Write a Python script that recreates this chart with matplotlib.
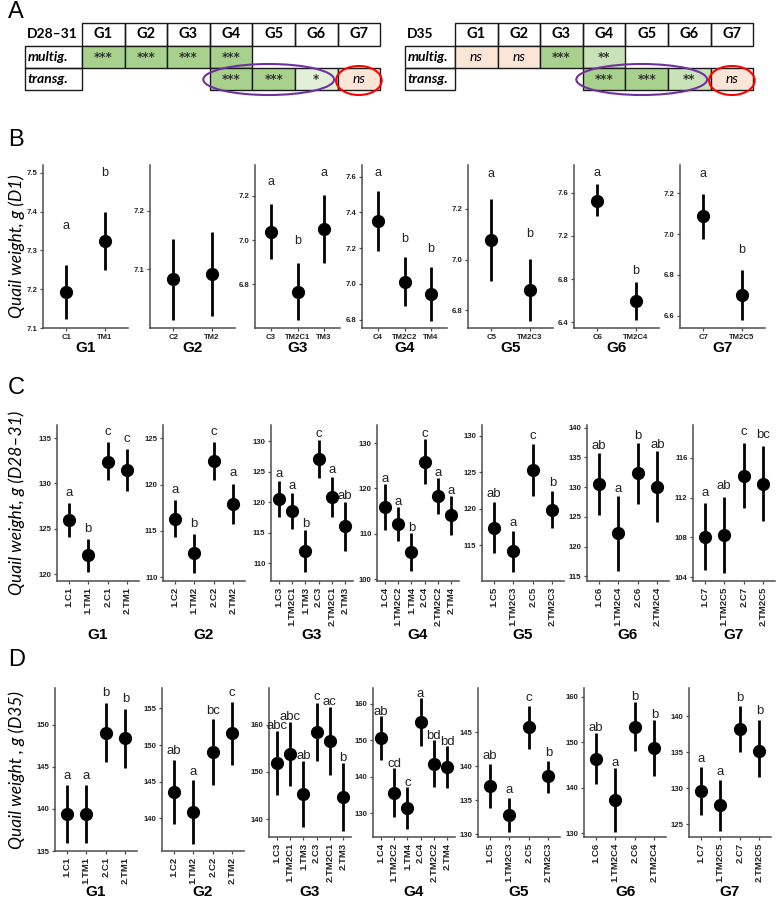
import matplotlib
matplotlib.use('Agg')
import matplotlib.pyplot as plt
from matplotlib.patches import Rectangle, Ellipse

# ---------------- DATA ----------------
groups = ["G1", "G2", "G3", "G4", "G5", "G6", "G7"]

# Panel A tables
tab_titles = ["D28–31", "D35"]
multig_D28 = ["***", "***", "***", "***", None, None, None]
transg_D28 = [None, None, None, "***", "***", "*", "ns"]
multig_D35 = ["ns", "ns", "***", "**", None, None, None]
transg_D35 = [None, None, None, "***", "***", "**", "ns"]

# Panel B (D1)
B_labels = [["C1", "TM1"], ["C2", "TM2"], ["C3", "TM2C1", "TM3"], ["C4", "TM2C2", "TM4"],
            ["C5", "TM2C3"], ["C6", "TM2C4"], ["C7", "TM2C5"]]
B_mean = [[7.193, 7.325], [7.083, 7.092], [7.037, 6.767, 7.05], [7.354, 7.013, 6.944],
          [7.076, 6.878], [7.526, 6.60], [7.088, 6.70]]
B_low = [[7.122, 7.25], [7.014, 7.02], [6.913, 6.637, 6.897], [7.187, 6.877, 6.795],
         [6.915, 6.755], [7.384, 6.424], [6.974, 6.577]]
B_high = [[7.262, 7.40], [7.152, 7.164], [7.163, 6.897, 7.203], [7.52, 7.149, 7.093],
          [7.24, 7.001], [7.68, 6.776], [7.197, 6.823]]
B_let = [["a", "b"], ["", ""], ["a", "b", "a"], ["a", "b", "b"], ["a", "b"], ["a", "b"], ["a", "b"]]
B_yticks = [[7.1, 7.2, 7.3, 7.4, 7.5], [7.1, 7.2], [6.8, 7.0, 7.2], [6.8, 7.0, 7.2, 7.4, 7.6],
            [6.8, 7.0, 7.2], [6.4, 6.8, 7.2, 7.6], [6.6, 6.8, 7.0, 7.2]]

# Panels C (D28-31) and D (D35) share the category labels
CD_labels = [["1.C1", "1.TM1", "2.C1", "2.TM1"],
             ["1.C2", "1.TM2", "2.C2", "2.TM2"],
             ["1.C3", "1.TM2C1", "1.TM3", "2.C3", "2.TM2C1", "2.TM3"],
             ["1.C4", "1.TM2C2", "1.TM4", "2.C4", "2.TM2C2", "2.TM4"],
             ["1.C5", "1.TM2C3", "2.C5", "2.TM2C3"],
             ["1.C6", "1.TM2C4", "2.C6", "2.TM2C4"],
             ["1.C7", "1.TM2C5", "2.C7", "2.TM2C5"]]

C_mean = [[126.0, 122.1, 132.4, 131.5], [116.3, 112.6, 122.6, 117.9],
          [120.5, 118.6, 112.0, 127.1, 120.9, 116.1], [116.0, 112.2, 105.9, 125.8, 118.4, 114.1],
          [117.4, 114.2, 125.3, 119.9], [130.5, 122.2, 132.4, 130.1], [108.0, 108.2, 114.2, 113.4]]
C_low = [[124.1, 120.2, 130.35, 129.2], [114.3, 110.5, 120.5, 115.7],
         [117.5, 115.6, 108.6, 124.0, 117.5, 112.0], [110.9, 108.5, 101.7, 120.9, 114.4, 109.8],
         [113.9, 111.4, 121.7, 117.4], [125.3, 115.9, 127.2, 124.1], [104.7, 104.4, 110.9, 109.6]]
C_high = [[127.9, 123.9, 134.6, 133.8], [118.3, 114.7, 124.6, 120.1],
          [123.5, 121.6, 115.4, 130.2, 124.2, 120.0], [121.1, 115.9, 110.1, 130.9, 122.4, 118.4],
          [120.9, 117.0, 128.9, 122.5], [135.8, 128.5, 137.5, 136.0], [111.4, 112.1, 117.5, 117.2]]
C_let = [["a", "b", "c", "c"], ["a", "b", "c", "a"], ["a", "a", "b", "c", "a", "ab"],
         ["a", "a", "b", "c", "a", "a"], ["ab", "a", "c", "b"], ["ab", "a", "b", "ab"],
         ["a", "ab", "c", "bc"]]
C_yticks = [[120, 125, 130, 135], [110, 115, 120, 125], [110, 115, 120, 125, 130],
            [100, 110, 120, 130], [115, 120, 125, 130], [115, 120, 125, 130, 135, 140],
            [104, 108, 112, 116]]

D_mean = [[139.4, 139.4, 149.1, 148.4], [143.6, 140.9, 149.0, 151.6],
          [151.9, 153.8, 145.3, 158.5, 156.5, 144.6], [150.6, 135.6, 131.4, 154.9, 143.5, 142.6],
          [137.1, 132.9, 145.7, 138.5], [146.3, 137.3, 153.4, 148.7], [129.6, 127.6, 138.2, 135.2]]
D_low = [[135.9, 135.9, 145.6, 144.9], [139.2, 136.5, 144.5, 147.3],
         [145.2, 147.1, 138.3, 152.3, 149.3, 137.4], [144.6, 128.9, 125.6, 148.3, 137.2, 136.8],
         [133.8, 130.4, 142.5, 136.1], [140.8, 130.4, 148.0, 142.5], [126.3, 124.0, 135.0, 131.5]]
D_high = [[142.8, 142.8, 152.6, 151.9], [148.0, 145.2, 153.5, 155.9],
          [158.6, 160.5, 152.3, 164.7, 163.7, 151.9], [156.7, 142.4, 137.2, 161.5, 150.0, 148.4],
          [140.4, 135.4, 148.9, 140.8], [152.0, 144.3, 158.8, 154.9], [132.9, 131.1, 141.4, 139.5]]
D_let = [["a", "a", "b", "b"], ["ab", "a", "bc", "c"], ["abc", "abc", "ab", "c", "ac", "b"],
         ["ab", "cd", "c", "a", "bd", "bd"], ["ab", "a", "c", "b"], ["ab", "a", "b", "b"],
         ["a", "a", "b", "b"]]
D_yticks = [[135, 140, 145, 150], [140, 145, 150, 155], [140, 150, 160], [130, 140, 150, 160],
            [130, 135, 140, 145], [130, 140, 150, 160], [125, 130, 135, 140]]

row_titles = ["Quail weight, g (D1)", "Quail weight, g (D28–31)", "Quail weight , g (D35)"]

# ---------------- LAYOUT ----------------
W, H = 777, 899
fig = plt.figure(figsize=(W / 100, H / 100), dpi=100)

AX_COL = '#4d4d4d'
TXT_COL = '#222222'

def px_axes(x0, y0, x1, y1):
    return fig.add_axes([x0 / W, 1 - y1 / H, (x1 - x0) / W, (y1 - y0) / H])

B_ylim = [(7.10, 7.52), (7.0, 7.278), (6.603, 7.339), (6.754, 7.665), (6.729, 7.374),
          (6.347, 7.856), (6.54, 7.339)]
C_ylim = [(119.23, 136.46), (109.6, 126.43), (107.06, 132.7), (99.6, 134.0), (110.1, 131.5),
          (114.2, 140.45), (103.6, 119.3)]
D_ylim = [(135.0, 154.4), (135.5, 157.8), (136.2, 167.8), (123.5, 164.3), (129.6, 151.5),
          (129.2, 161.9), (123.2, 143.9)]

rows = [
    dict(lefts=[43, 150, 255, 362, 468, 574, 680], width=85, top=165, bottoms=[328] * 7,
         labels=B_labels, mean=B_mean, low=B_low, high=B_high, let=B_let, ylim=B_ylim,
         yticks=B_yticks, off=0.1, rot=0, xfs=5.6, lfs=9, gy=348, fmt='{:.1f}', ty=246),
    dict(lefts=[57, 163, 271, 377, 482, 587, 693], width=82, top=425, bottoms=[581] * 7,
         labels=CD_labels, mean=C_mean, low=C_low, high=C_high, let=C_let, ylim=C_ylim,
         yticks=C_yticks, off=1.1, rot=90, xfs=6.8, lfs=9.5, gy=635, fmt='{:.0f}', ty=503),
    dict(lefts=[55, 162, 269, 373, 478, 584, 689], width=82, top=688,
         bottoms=[851, 851, 837, 837, 837, 837, 837],
         labels=CD_labels, mean=D_mean, low=D_low, high=D_high, let=D_let, ylim=D_ylim,
         yticks=D_yticks, off=1.15, rot=90, xfs=6.8, lfs=9.5, gy=892, fmt='{:.0f}', ty=770),
]

for r, row in enumerate(rows):
    for g in range(7):
        x0 = row['lefts'][g]
        ax = px_axes(x0, row['top'], x0 + row['width'], row['bottoms'][g])
        labels = row['labels'][g]
        n = len(labels)
        mean, low, high, lets = row['mean'][g], row['low'][g], row['high'][g], row['let'][g]
        xs = list(range(n))
        ax.vlines(xs, low, high, color='black', lw=2.0, zorder=2)
        ax.plot(xs, mean, 'o', color='black', ms=8.5, zorder=3)
        for i, l in enumerate(lets):
            if l:
                ax.text(i, high[i] + row['off'], l, ha='center', va='center',
                        fontsize=row['lfs'], color=TXT_COL, family='Liberation Sans')
        ax.set_xlim(-0.6, n - 0.4)
        ax.set_ylim(*row['ylim'][g])
        ax.set_yticks(row['yticks'][g])
        ax.set_yticklabels([row['fmt'].format(t) for t in row['yticks'][g]])
        ax.set_xticks(xs)
        ax.set_xticklabels(labels, rotation=row['rot'])
        for s in ['top', 'right']:
            ax.spines[s].set_visible(False)
        for s in ['left', 'bottom']:
            ax.spines[s].set_color(AX_COL)
            ax.spines[s].set_linewidth(1.1)
        ax.tick_params(axis='both', colors=AX_COL, length=2.5, width=0.9, pad=1.5)
        for t in ax.get_yticklabels():
            t.set_fontsize(5.6)
            t.set_fontweight('bold')
            t.set_color(TXT_COL)
            t.set_family('Liberation Sans')
        for t in ax.get_xticklabels():
            t.set_fontsize(row['xfs'])
            t.set_fontweight('bold')
            t.set_color(TXT_COL)
            t.set_family('Liberation Sans')
        ax.patch.set_alpha(0)
        fig.text((x0 + row['width'] / 2) / W, 1 - row['gy'] / H, groups[g], ha='center',
                 va='center', fontsize=11, fontweight='bold', family='Liberation Sans',
                 color='black')
    fig.text(17 / W, 1 - row['ty'] / H, row_titles[r], rotation=90, ha='center', va='center',
             fontsize=12.5, style='italic', family='Lato', color='black')

# Panel letters
for lab, yy in zip("ABCD", [12, 140, 388, 660]):
    fig.text(8 / W, 1 - yy / H, lab, ha='left', va='center', fontsize=17,
             family='Liberation Sans', color='black')

# ---------------- PANEL A tables ----------------
ov = fig.add_axes([0, 0, 1, 1])
ov.set_xlim(0, W)
ov.set_ylim(H, 0)
ov.axis('off')
ov.patch.set_alpha(0)

fill = {"***": "#a9d18e", "**": "#c9e2b8", "*": "#e2f0d9", "ns": "#fbe5d6"}
EC = '#1a1a1a'
TFS = 10

def draw_table(xl, x0, title, multig, transg):
    cw = 42.6
    ry = [(23, 46), (46, 68), (68, 90)]
    ov.text(xl + 2, 34.5, title, ha='left', va='center', fontsize=TFS, fontweight='bold',
            family='Lato')
    for i, g in enumerate(groups):
        xa = x0 + i * cw
        ov.add_patch(Rectangle((xa, 23), cw, 23, fill=False, ec=EC, lw=1.0))
        ov.text(xa + cw / 2, 34.5, g, ha='center', va='center', fontsize=TFS + 0.5,
                fontweight='bold', family='Lato')
    for k, (vals, lab) in enumerate([(multig, 'multig.'), (transg, 'transg.')]):
        y0, y1 = ry[k + 1]
        ov.add_patch(Rectangle((xl, y0), x0 - xl, y1 - y0, fill=False, ec=EC, lw=1.0))
        ov.text(xl + 3, (y0 + y1) / 2, lab, ha='left', va='center', fontsize=TFS,
                fontweight='bold', style='italic', family='Lato')
        for i, v in enumerate(vals):
            if v is None:
                continue
            xa = x0 + i * cw
            ov.add_patch(Rectangle((xa, y0), cw, y1 - y0, fc=fill[v], ec=EC, lw=1.0))
            if v == 'ns':
                ov.text(xa + cw / 2, (y0 + y1) / 2, v, ha='center', va='center',
                        fontsize=TFS, style='italic', family='Lato')
            else:
                ov.text(xa + cw / 2, (y0 + y1) / 2 + 1, v, ha='center', va='center',
                        fontsize=8.5, fontweight='bold', family='DejaVu Sans', color='#333333')
    # highlight shapes
    ov.add_patch(Ellipse((x0 + 3 * cw + 1.5 * cw - 5, 79.5), 3 * cw + 3, 31, fill=False,
                         ec='#7030a0', lw=1.5))
    ov.add_patch(Ellipse((x0 + 6.5 * cw, 80.5), cw + 3, 29, fill=False, ec='#ff0000', lw=1.5))

draw_table(25, 82, tab_titles[0], multig_D28, transg_D28)
draw_table(405, 455, tab_titles[1], multig_D35, transg_D35)

fig.savefig('out.png', dpi=100)
